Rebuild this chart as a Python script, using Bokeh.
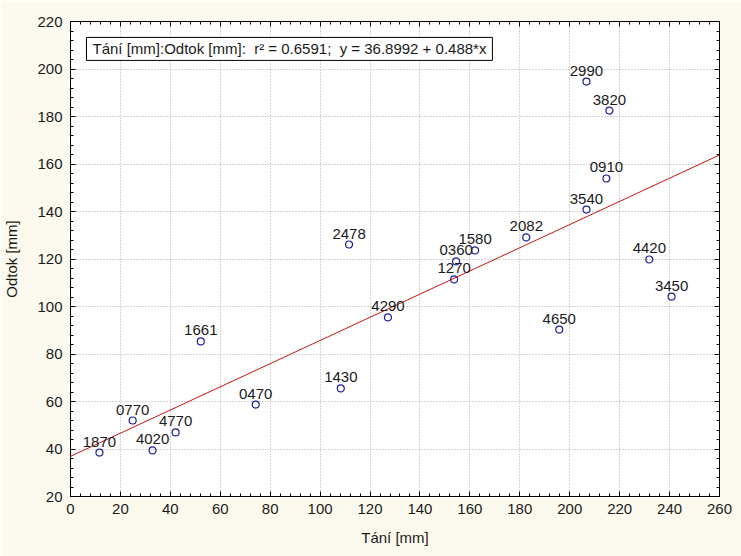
from bokeh.plotting import figure
from bokeh.models import (ColumnDataSource, LabelSet, Label, LinearAxis, Range1d,
                          SingleIntervalTicker, Slope, CustomJSTickFormatter)
from bokeh.core.properties import value
from bokeh.embed import file_html
from bokeh.resources import INLINE

# Data
ids = ["1870", "0770", "4020", "4770", "1661", "0470", "1430", "2478", "4290",
       "1270", "0360", "1580", "2082", "4650", "3540", "0910", "2990", "3820",
       "4420", "3450"]
tani = [11.6, 24.9, 32.9, 42.1, 52.2, 74.2, 108.3, 111.6, 127.2,
        153.7, 154.5, 162.1, 182.6, 195.8, 206.7, 214.7, 206.7, 215.9,
        231.9, 240.8]
odtok = [38.5, 52.0, 39.4, 47.0, 85.3, 58.7, 65.5, 126.1, 95.4,
         111.4, 119.0, 123.6, 129.1, 90.3, 140.8, 153.9, 194.7, 182.5,
         119.8, 104.2]
intercept = 36.8992
slope = 0.488
r2 = 0.6591

FONT = "Liberation Sans"
TXT = "#1a1a1a"
CREAM = "#fcfaee"
NB = "\u00a0"

src = ColumnDataSource(dict(x=tani, y=odtok, lab=ids))

p = figure(width=741, height=556, output_backend="svg", toolbar_location=None,
           x_range=Range1d(0, 260), y_range=Range1d(20, 220),
           min_border_left=70, min_border_right=22, min_border_top=21,
           min_border_bottom=60, x_axis_location=None, y_axis_location=None)
p.border_fill_color = CREAM
p.background_fill_color = "white"
p.outline_line_color = "black"
p.outline_line_width = 1

def style_axis(ax, labels=True):
    ax.ticker = SingleIntervalTicker(interval=20, num_minor_ticks=5)
    ax.major_tick_in = 5
    ax.major_tick_out = 0
    ax.minor_tick_in = 3
    ax.minor_tick_out = 0
    ax.axis_line_color = "black"
    ax.major_tick_line_color = "black"
    ax.minor_tick_line_color = "black"
    if labels:
        ax.major_label_text_font = FONT
        ax.major_label_text_font_size = "15px"
        ax.major_label_text_color = TXT
        ax.axis_label_text_font = FONT
        ax.axis_label_text_font_size = "15px"
        ax.axis_label_text_font_style = "normal"
        ax.axis_label_text_color = TXT
    else:
        ax.formatter = CustomJSTickFormatter(code="return ''")
        ax.major_label_standoff = 0

xb = LinearAxis(axis_label="Tání [mm]")
style_axis(xb)
xb.major_label_standoff = 7
xb.axis_label_standoff = 12
p.add_layout(xb, "below")

yl = LinearAxis(axis_label="Odtok [mm]")
style_axis(yl)
yl.major_label_standoff = 8
yl.axis_label_standoff = 14
p.add_layout(yl, "left")

xt = LinearAxis()
style_axis(xt, labels=False)
p.add_layout(xt, "above")
yr = LinearAxis()
style_axis(yr, labels=False)
p.add_layout(yr, "right")

p.xgrid.ticker = SingleIntervalTicker(interval=20)
p.ygrid.ticker = SingleIntervalTicker(interval=20)
for g in (p.xgrid, p.ygrid):
    g.grid_line_color = "#a8a8a8"
    g.grid_line_dash = "1 2"
    g.grid_line_width = 1

p.add_layout(Slope(gradient=slope, y_intercept=intercept,
                   line_color="#c81414", line_width=1))

p.scatter("x", "y", source=src, size=7, marker="circle", fill_color=None,
          line_color="#1c1c9c", line_width=1.2)

p.add_layout(LabelSet(x="x", y="y", text="lab", source=src, text_align="center",
                      text_baseline="bottom", y_offset=6,
                      text_font=value(FONT), text_font_size="15px", text_color=TXT))

legend_txt = (f"Tání [mm]:Odtok [mm]:{NB}{NB}r² = {r2};{NB}{NB}"
              f"y = {intercept} + {slope}*x")
p.add_layout(Label(x=6.4, y=213.3, anchor="top_left", text=legend_txt,
                   text_font=FONT, text_font_size="15px", text_color=TXT,
                   padding=(6, 3), background_fill_color="white",
                   border_line_color="black", border_line_width=1))

open("out.html", "w").write(file_html(p, INLINE))
